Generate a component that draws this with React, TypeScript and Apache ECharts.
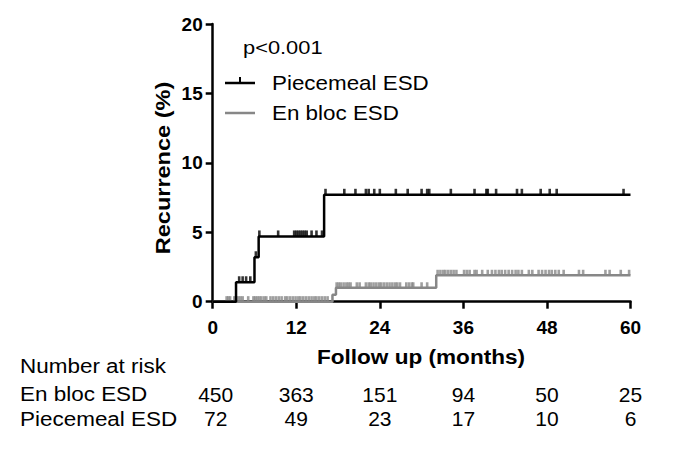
import React, { useEffect, useRef } from "react";
import * as echarts from "echarts";

// ---- Data ----
const xTicks = [0, 12, 24, 36, 48, 60];
const yTicks = [0, 5, 10, 15, 20];

// Kaplan–Meier style step curves (cumulative recurrence, %)
const piecemealTimes = [0, 3.35, 6.0, 6.6, 16.0, 60];
const piecemealRecur = [0, 1.4, 3.2, 4.7, 7.7, 7.7];
const enBlocTimes = [0, 17.2, 17.7, 32.1, 60];
const enBlocRecur = [0, 0.5, 1.0, 1.9, 1.9];

// Censored observations (months)
const piecemealCensored = [
  3.8, 4.3, 4.8, 5.4, 6.2, 6.7, 9.4, 11.7, 12.0, 12.3, 12.6, 12.9, 13.2, 13.5,
  14.2, 14.9, 15.7, 16.2, 18.9, 20.5, 22.0, 22.4, 23.2, 24.0, 26.3, 28.0, 30.0,
  30.8, 31.1, 34.2, 37.6, 39.3, 39.5, 40.7, 43.7, 44.4, 47.1, 48.4, 49.4, 59.0,
];
const enBlocCensored = [
  2.0, 2.25, 2.5, 3.1, 3.35, 3.7, 4.0, 4.3, 5.1, 5.85, 6.1, 6.4, 6.7, 7.0, 7.4,
  7.7, 8.3, 8.7, 9.1, 9.5, 9.9, 10.4, 10.7, 11.1, 11.5, 11.9, 12.3, 12.6, 13.0,
  13.4, 13.8, 14.2, 14.6, 14.9, 15.3, 15.7, 16.1, 16.5, 17.8, 18.1, 18.4, 18.8,
  19.2, 19.5, 19.8, 20.7, 21.1, 22.0, 22.4, 22.7, 23.1, 23.5, 23.9, 24.2, 24.6,
  25.0, 25.4, 25.8, 26.2, 26.5, 26.9, 27.8, 28.2, 28.6, 28.8, 30.0, 30.8, 32.3,
  32.7, 33.1, 33.4, 33.8, 34.2, 34.6, 35.0, 36.1, 36.5, 36.9, 37.6, 37.9, 38.7,
  39.5, 40.1, 40.6, 41.1, 41.5, 42.0, 42.5, 43.0, 43.5, 43.9, 44.4, 45.4, 45.9,
  46.8, 47.3, 47.8, 48.3, 48.7, 49.2, 49.7, 50.4, 52.6, 53.2, 56.4, 57.0, 58.6,
  59.8,
];

// Number at risk
const riskTimes = [0, 12, 24, 36, 48, 60];
const riskEnBloc = [450, 363, 151, 94, 50, 25];
const riskPiecemeal = [72, 49, 23, 17, 10, 6];

const seriesNames = ["Piecemeal ESD", "En bloc ESD"];
const pValueText = "p<0.001";
const xAxisTitle = "Follow up (months)";
const yAxisTitle = "Recurrence (%)";
const riskTitle = "Number at risk";

const BLACK = "#000000";
const GRAY = "#878787";
const FONT = "'Liberation Sans', Arial, Helvetica, sans-serif";

function levelAt(times: number[], values: number[], t: number): number {
  let v = values[0];
  for (let i = 0; i < times.length; i++) {
    if (times[i] <= t) v = values[i];
  }
  return v;
}

export default function App() {
  const ref = useRef<HTMLDivElement>(null);

  useEffect(() => {
    if (!ref.current) return;
    const chart = echarts.init(ref.current, undefined, { renderer: "svg" });

    const pmLine = piecemealTimes.map((t, i) => [t, piecemealRecur[i]]);
    const ebLine = enBlocTimes.map((t, i) => [t, enBlocRecur[i]]);
    const pmCens = piecemealCensored.map((t) => [t, levelAt(piecemealTimes, piecemealRecur, t)]);
    const ebCens = enBlocCensored.map((t) => [t, levelAt(enBlocTimes, enBlocRecur, t)]);

    chart.setOption({
      animation: false,
      grid: { left: 212.7, right: 52.5, top: 24, bottom: 149.3, containLabel: false },
      xAxis: {
        type: "value",
        min: 0,
        max: 60,
        interval: 12,
        axisLine: { show: true, lineStyle: { color: BLACK, width: 2.5 } },
        axisTick: { show: true, length: 7, lineStyle: { color: BLACK, width: 2.5 } },
        splitLine: { show: false },
        axisLabel: {
          margin: 16,
          color: BLACK,
          fontFamily: FONT,
          fontWeight: "bold",
          fontSize: 19,
          formatter: (v: number) => (xTicks.includes(v) ? String(v) : ""),
        },
      },
      yAxis: {
        type: "value",
        min: 0,
        max: 20,
        interval: 5,
        axisLine: { show: true, lineStyle: { color: BLACK, width: 2.5 } },
        axisTick: { show: true, length: 7, lineStyle: { color: BLACK, width: 2.5 } },
        splitLine: { show: false },
        axisLabel: {
          margin: 10,
          color: BLACK,
          fontFamily: FONT,
          fontWeight: "bold",
          fontSize: 19,
          formatter: (v: number) => (yTicks.includes(v) ? String(v) : ""),
        },
      },
      series: [
        {
          name: seriesNames[1],
          type: "line",
          step: "end",
          data: ebLine,
          symbol: "none",
          lineStyle: { color: GRAY, width: 2.5 },
          z: 2,
        },
        {
          name: seriesNames[1] + " censored",
          type: "scatter",
          data: ebCens,
          symbol: "rect",
          symbolSize: [2.6, 5.5],
          symbolOffset: [0, -2.8],
          itemStyle: { color: GRAY },
          z: 2,
        },
        {
          name: seriesNames[0],
          type: "line",
          step: "end",
          data: pmLine,
          symbol: "none",
          lineStyle: { color: BLACK, width: 2.5 },
          z: 3,
        },
        {
          name: seriesNames[0] + " censored",
          type: "scatter",
          data: pmCens,
          symbol: "rect",
          symbolSize: [2.6, 6],
          symbolOffset: [0, -3],
          itemStyle: { color: BLACK },
          z: 3,
        },
      ],
    });

    const px = (t: number) => chart.convertToPixel({ xAxisIndex: 0 }, t) as number;
    const textStyle = (extra: any) => ({
      fill: BLACK,
      fontFamily: FONT,
      fontSize: 21,
      ...extra,
    });

    const graphics: any[] = [];
    // p-value
    graphics.push({
      type: "text",
      x: 243,
      y: 47,
      scaleX: 1.15,
      style: textStyle({ text: pValueText, fontSize: 19, verticalAlign: "middle" }),
    });
    // legend
    graphics.push({ type: "line", shape: { x1: 225, y1: 83, x2: 255, y2: 83 }, style: { stroke: BLACK, lineWidth: 2.5 } });
    graphics.push({ type: "line", shape: { x1: 240, y1: 83, x2: 240, y2: 77 }, style: { stroke: BLACK, lineWidth: 2 } });
    graphics.push({
      type: "text",
      x: 272,
      y: 83,
      scaleX: 1.12,
      style: textStyle({ text: seriesNames[0], fontSize: 20, verticalAlign: "middle" }),
    });
    graphics.push({ type: "line", shape: { x1: 225, y1: 113, x2: 255, y2: 113 }, style: { stroke: GRAY, lineWidth: 2.5 } });
    graphics.push({
      type: "text",
      x: 272,
      y: 113,
      scaleX: 1.12,
      style: textStyle({ text: seriesNames[1], fontSize: 20, verticalAlign: "middle" }),
    });
    // axis titles
    graphics.push({
      type: "text",
      x: 421,
      y: 357,
      scaleX: 1.075,
      style: textStyle({ text: xAxisTitle, fontWeight: "bold", align: "center", verticalAlign: "middle" }),
    });
    graphics.push({
      type: "text",
      x: 163,
      y: 168,
      rotation: Math.PI / 2,
      scaleX: 1.12,
      style: textStyle({ text: yAxisTitle, fontWeight: "bold", align: "center", verticalAlign: "middle" }),
    });
    // number at risk table
    graphics.push({
      type: "text",
      x: 20,
      y: 366,
      scaleX: 1.07,
      style: textStyle({ text: riskTitle, verticalAlign: "middle" }),
    });
    graphics.push({
      type: "text",
      x: 20,
      y: 394,
      scaleX: 1.07,
      style: textStyle({ text: seriesNames[1], verticalAlign: "middle" }),
    });
    graphics.push({
      type: "text",
      x: 20,
      y: 418.5,
      scaleX: 1.07,
      style: textStyle({ text: seriesNames[0], verticalAlign: "middle" }),
    });
    riskTimes.forEach((t, i) => {
      const x = px(t) + (i === 0 ? 3 : 0);
      graphics.push({
        type: "text",
        x,
        y: 394,
        style: textStyle({ text: String(riskEnBloc[i]), align: "center", verticalAlign: "middle" }),
      });
      graphics.push({
        type: "text",
        x,
        y: 418.5,
        style: textStyle({ text: String(riskPiecemeal[i]), align: "center", verticalAlign: "middle" }),
      });
    });

    chart.setOption({ graphic: { elements: graphics } });

    return () => chart.dispose();
  }, []);

  return (
    <div
      ref={ref}
      style={{ position: "fixed", left: 0, top: 0, width: 683, height: 451, background: "#ffffff" }}
    />
  );
}
